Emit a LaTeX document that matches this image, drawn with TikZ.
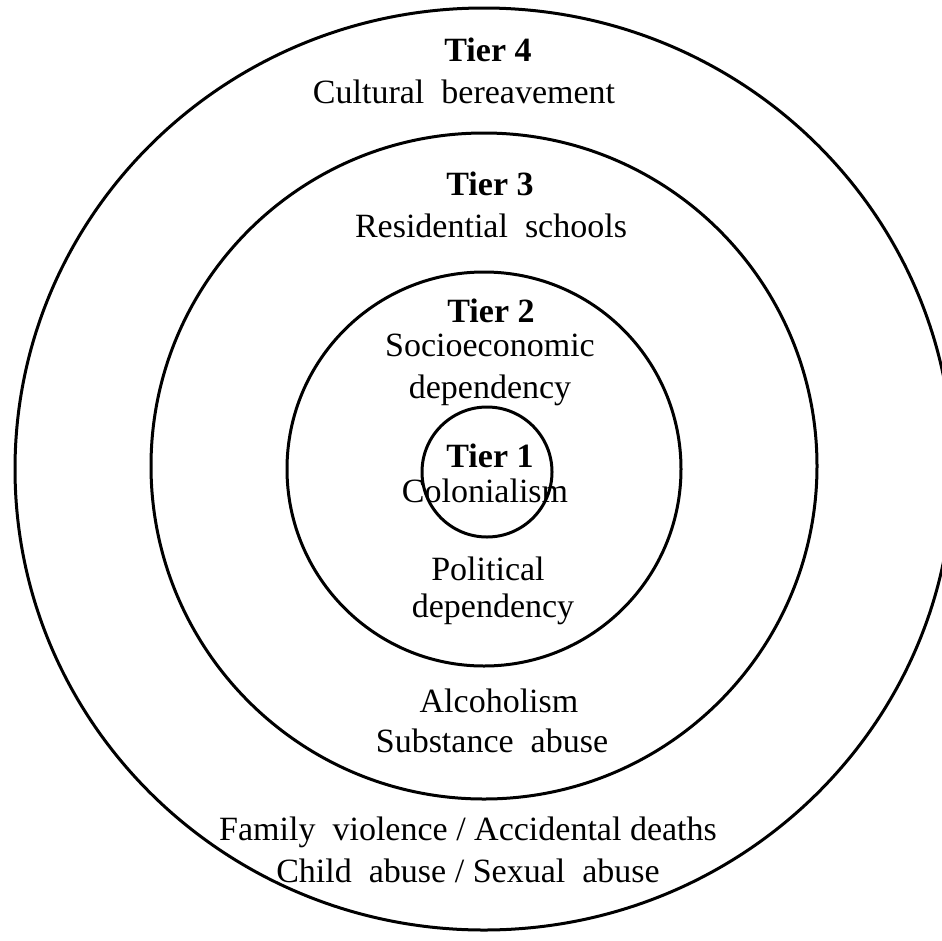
\documentclass[tikz,border=0pt]{standalone}
\usepackage{fontspec}
\setmainfont{Liberation Serif}

\begin{document}
\begin{tikzpicture} [x = 1pt, y = -1pt,
  ring/.style = {black, line width = 3pt},
  lbl/.style = {black, anchor = base, inner sep = 0pt, font = \fontsize{34}{40}\selectfont},
  tier/.style = {lbl, font = \fontsize{34}{40}\selectfont\bfseries}]
\useasboundingbox (0, 0) rectangle (942, 940);
\clip (0, 0) rectangle (942, 940);
\fill[white] (0, 0) rectangle (942, 940);
\draw[ring] (484, 469) ellipse (469 and 461);
\draw[ring] (484, 466) circle (333);
\draw[ring] (484, 469) circle (197);
\draw[ring] (487, 472) circle (65);
\node[tier] (t4) at (488, 61){Tier 4};
\node[lbl] (t4a) at (464, 103){Cultural \ bereavement};
\node[tier] (t3) at (490, 195){Tier 3};
\node[lbl] (t3a) at (491, 237){Residential \ schools};
\node[tier] (t2) at (491, 322){Tier 2};
\node[lbl] (t2a) at (490, 356){Socioeconomic};
\node[lbl] (t2b) at (490, 398){dependency};
\node[tier] (t1) at (490, 467){Tier 1};
\node[lbl] (t1a) at (485, 502){Colonialism};
\node[lbl] (t2c) at (488, 580){Political};
\node[lbl] (t2d) at (493, 617){dependency};
\node[lbl] (t3b) at (499, 712){Alcoholism};
\node[lbl] (t3c) at (492, 752){Substance \ abuse};
\node[lbl] (t4b) at (468, 840){Family \ violence / Accidental deaths};
\node[lbl] (t4c) at (468, 882){Child \ abuse / Sexual \ abuse};
\end{tikzpicture}
\end{document}
